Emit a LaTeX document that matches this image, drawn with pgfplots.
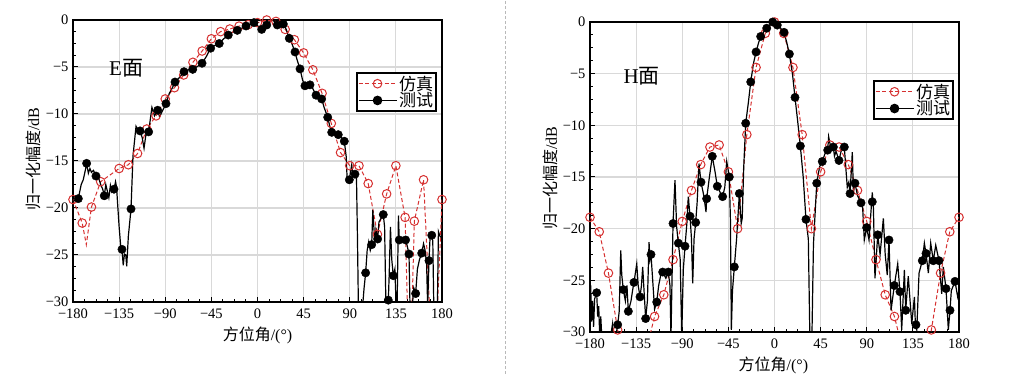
\documentclass[border=0pt]{standalone}
\usepackage{fontspec}
\setmainfont{Liberation Serif}
\newfontfamily\cjk{Noto Sans CJK SC}
\usepackage{pgfplots}
\pgfplotsset{compat=1.18}
\definecolor{simred}{RGB}{214,48,48}
\pgfplotsset{
 myax/.style={
  scale only axis, width=369pt, xmin=-180, xmax=180, ymin=-30, ymax=0,
  xtick={-180,-135,...,180}, xticklabels={−180,−135,−90,−45,0,45,90,135,180},
  ytick={-30,-25,...,0}, yticklabels={−30,−25,−20,−15,−10,−5,0},
  minor x tick num=3, minor y tick num=3,
  tick pos=left, tick align=inside,
  major tick length=5pt, minor tick length=3pt,
  every tick/.style={black, line width=1pt},
  grid=major, major grid style={gray!30, line width=1.2pt},
  axis line style={line width=1.6pt},
  tick label style={font=\fontsize{14.5}{17}\selectfont},
  xticklabel style={yshift=-3pt},
  yticklabel style={xshift=-1pt},
  label style={font=\fontsize{16}{18}\selectfont},
  legend cell align=left,
  legend style={draw=black, line width=1.8pt, font=\fontsize{17}{17}\selectfont, inner sep=1pt, row sep=-3pt, anchor=north west},
  legend image code/.code={\draw[mark repeat=2,mark phase=2] plot coordinates {(0pt,0pt)(19pt,0pt)(38pt,0pt)};},
 },
 simline/.style={simred, line width=1pt, dash pattern=on 4pt off 2.5pt},
 simmark/.style={simred, only marks, mark=o, mark size=4.3pt, mark options={solid, line width=1pt}},
 mealine/.style={black, line width=1.2pt},
 meamark/.style={black, only marks, mark=*, mark size=4.2pt},
}
\begin{document}
\begin{tikzpicture}
\path[use as bounding box] (0pt,0pt) rectangle (1011pt,374pt);
\draw[gray!55, line width=1pt, dash pattern=on 3pt off 2pt] (505pt,0pt) -- (505pt,374pt);
% ---------------- E plane ----------------
\begin{axis}[myax, at={(73pt,72pt)}, anchor=south west, height=282pt,
  xlabel={{\cjk 方位角}/(°)}, ylabel={{\cjk 归一化幅度}/dB},
  xlabel style={at={(axis description cs:0.5,-0.118)}, anchor=center},
  ylabel style={at={(axis description cs:-0.108,0.507)}, anchor=center, rotate=0},
  legend style={at={(axis description cs:0.767,0.816)}}]
\addplot[simline, forget plot] coordinates {(-180,-19.1)(-171,-21.6)(-167,-23.9)(-162,-19.9)(-153,-17.2)(-144,-16.5)(-135,-15.8)(-126,-15.4)(-117,-14.2)(-108,-11.6)(-99,-10.2)(-90,-8.4)(-81,-7.2)(-72,-5.85)(-63,-4.5)(-54,-3.3)(-45,-2.0)(-36,-1.24)(-27,-0.96)(-18,-0.65)(-9,-0.5)(0,-0.28)(9,0)(18,-0.15)(27,-1.0)(36,-2.1)(45,-3.5)(54,-5.3)(63,-7.8)(72,-11.0)(81,-14.1)(90,-15.5)(99,-15.5)(108,-17.4)(117,-22.8)(126,-18.5)(135,-15.5)(144,-21.0)(148.5,-40)(153,-21.4)(162,-17.0)(172,-40)(180,-19.1)};
\addplot[simmark, forget plot] coordinates {(-180,-19.1)(-171,-21.6)(-162,-19.9)(-153,-17.2)(-135,-15.8)(-126,-15.4)(-117,-14.2)(-108,-11.6)(-99,-10.2)(-90,-8.4)(-81,-7.2)(-72,-5.85)(-63,-4.5)(-54,-3.3)(-45,-2.0)(-36,-1.24)(-27,-0.96)(-18,-0.65)(-9,-0.5)(0,-0.28)(9,0)(18,-0.15)(27,-1.0)(36,-2.1)(45,-3.5)(54,-5.3)(63,-7.8)(72,-11.0)(81,-14.1)(90,-15.5)(99,-15.5)(108,-17.4)(117,-22.8)(126,-18.5)(135,-15.5)(144,-21.0)(153,-21.4)(162,-17.0)(180,-19.1)};
\addplot[mealine, forget plot] coordinates {(-180,-19.3)(-177,-19.1)(-174.8,-19.0)(-172,-17.5)(-170,-17.0)(-168,-16.0)(-166.7,-15.25)(-165,-16.3)(-163.5,-15.8)(-162,-16.2)(-160,-16.0)(-157.6,-16.6)(-155,-16.8)(-153,-17.5)(-151,-18.0)(-149.5,-18.7)(-148,-17.5)(-146.5,-18.2)(-145,-18.9)(-143.5,-17.6)(-142,-18.3)(-140,-18.0)(-138.5,-17.2)(-137.5,-17.8)(-136.5,-19.5)(-135,-22.0)(-133.5,-24.0)(-132.2,-24.4)(-131,-26.1)(-129.8,-24.9)(-128.5,-25.0)(-127.6,-26.2)(-126,-23)(-123.4,-20.1)(-121.5,-14.5)(-118.5,-11.3)(-116,-11.8)(-114.6,-11.8)(-112.5,-12.5)(-110.7,-13.65)(-109,-12.3)(-106.2,-11.9)(-104.5,-10.5)(-103,-9.3)(-100.5,-10.2)(-97.4,-9.6)(-95.5,-10.3)(-92,-9.5)(-89.3,-8.9)(-86,-7.8)(-83,-7.2)(-80.5,-6.6)(-76,-6.1)(-71.7,-5.5)(-67,-5.3)(-63.2,-5.25)(-58,-4.9)(-54.1,-4.6)(-50,-3.9)(-45.7,-3.0)(-41.5,-2.7)(-37.3,-2.5)(-33,-2.0)(-28.5,-1.6)(-24,-1.3)(-19.7,-1.1)(-15,-0.85)(-11.2,-0.64)(-7,-0.45)(-3.4,-0.28)(0,-0.6)(4.1,-1.0)(6.5,-0.7)(9,-0.53)(12,-0.2)(15,0)(19.3,-0.53)(22,-0.1)(25.2,-0.43)(28,-1.0)(31.0,-1.95)(33.5,-2.5)(36.6,-3.4)(38.5,-4.2)(41.5,-5.2)(44,-6.4)(46.3,-7.0)(48.7,-6.95)(51.2,-6.9)(54,-7.3)(57.1,-8.0)(60,-8.2)(62.6,-8.4)(65,-9.3)(68.5,-10.35)(70.5,-11.3)(72.4,-11.95)(75,-12.1)(78.8,-12.2)(81,-12.3)(82.5,-12.6)(84.7,-12.9)(86.5,-14.5)(87.5,-17.0)(89.6,-17.0)(91.9,-15.4)(93,-16.5)(95.1,-16.4)(96.5,-16.3)(97.5,-23)(98.5,-31)(101,-31)(102.5,-30.5)(104,-28.5)(105.5,-26.9)(107,-24.5)(108.5,-23.6)(110,-24.5)(111.4,-23.9)(112.5,-20.2)(113.5,-22)(114.5,-23.5)(115.5,-22.3)(117.2,-23.3)(118.5,-21.5)(120,-21.2)(122.7,-20.7)(124,-22)(125.3,-30.5)(126.5,-30.5)(127.6,-30)(128.5,-27)(129.7,-22.0)(131,-25.5)(132.5,-27.2)(134,-26.5)(135.3,-30.5)(136.2,-30.5)(137.5,-20.8)(138.3,-23.4)(141,-23.4)(144.5,-23.4)(146,-24)(147.8,-24.9)(148.8,-30.5)(151,-30.5)(152.5,-28.5)(154.3,-29.1)(156,-26.5)(158,-25.5)(160.2,-24.8)(162,-23.8)(163.5,-24.5)(165,-26)(166,-30.5)(167.3,-25.6)(168.5,-22.8)(170,-22.9)(171,-23.5)(172,-30.5)(175.5,-30.5)(176.5,-22.5)(178,-23.0)(180,-23.2)};
\addplot[meamark, forget plot] coordinates {(-174.8,-19.0)(-166.7,-15.25)(-157.6,-16.6)(-149.5,-18.7)(-140,-18.0)(-132.2,-24.4)(-123.4,-20.1)(-114.6,-11.8)(-106.2,-11.9)(-97.4,-9.6)(-89.3,-8.9)(-80.5,-6.6)(-71.7,-5.5)(-63.2,-5.25)(-54.1,-4.6)(-45.7,-3.0)(-37.3,-2.5)(-28.5,-1.6)(-19.7,-1.1)(-11.2,-0.64)(-3.4,-0.28)(4.1,-1.0)(9,-0.53)(19.3,-0.53)(25.2,-0.43)(31.0,-1.95)(36.6,-3.4)(41.5,-5.2)(46.3,-7.0)(51.2,-6.9)(57.1,-8.0)(62.6,-8.4)(68.5,-10.35)(72.4,-11.95)(78.8,-12.2)(84.7,-12.9)(89.6,-17.0)(95.1,-16.4)(105.5,-26.9)(111.4,-23.9)(117.2,-23.3)(122.7,-20.7)(127.6,-29.8)(132.5,-27.2)(138.3,-23.4)(144.5,-23.4)(147.8,-24.9)(154.3,-29.1)(160.2,-24.8)(167.3,-25.6)(170.0,-22.9)};
\addlegendimage{simred, line width=1pt, dash pattern=on 4pt off 2.5pt, mark=o, mark size=4.3pt, mark options={solid}}
\addlegendentry{\cjk 仿真}
\addlegendimage{black, line width=1.2pt, mark=*, mark size=4.2pt}
\addlegendentry{\cjk 测试}
\node[font=\fontsize{21}{22}\selectfont] at (axis description cs:0.144,0.83) {E{\cjk 面}};
\end{axis}
% ---------------- H plane ----------------
\begin{axis}[myax, at={(590pt,42pt)}, anchor=south west, height=310pt,
  xlabel={{\cjk 方位角}/(°)}, ylabel={{\cjk 归一化幅度}/dB},
  xlabel style={at={(axis description cs:0.497,-0.108)}, anchor=center},
  ylabel style={at={(axis description cs:-0.106,0.497)}, anchor=center, rotate=0},
  legend style={at={(axis description cs:0.767,0.813)}}]
\addplot[simline, forget plot] coordinates {(-180,-18.9)(-171,-20.3)(-162,-24.3)(-153,-29.8)(-151,-31.5)(-140,-45)(-124,-33)(-121,-30.1)(-117,-28.5)(-108,-26.4)(-99,-23.0)(-90,-19.3)(-81,-16.3)(-72,-13.8)(-63,-12.1)(-54,-11.9)(-45,-14.5)(-36,-20.0)(-27,-10.9)(-18,-4.4)(-9,-1.1)(0,0)(9,-1.1)(18,-4.4)(27,-10.9)(36,-20.0)(45,-14.5)(54,-11.9)(63,-12.1)(72,-13.8)(81,-16.3)(90,-19.3)(99,-23.0)(108,-26.4)(117,-28.5)(121,-30.1)(124,-33)(140,-45)(151,-31.5)(153,-29.8)(162,-24.3)(171,-20.3)(180,-18.9)};
\addplot[simmark, forget plot] coordinates {(-180,-18.9)(-171,-20.3)(-162,-24.3)(-153,-29.8)(-117,-28.5)(-108,-26.4)(-99,-23.0)(-90,-19.3)(-81,-16.3)(-72,-13.8)(-63,-12.1)(-54,-11.9)(-45,-14.5)(-36,-20.0)(-27,-10.9)(-18,-4.4)(-9,-1.1)(0,0)(9,-1.1)(18,-4.4)(27,-10.9)(36,-20.0)(45,-14.5)(54,-11.9)(63,-12.1)(72,-13.8)(81,-16.3)(90,-19.3)(99,-23.0)(108,-26.4)(117,-28.5)(153,-29.8)(162,-24.3)(171,-20.3)(180,-18.9)};
\addplot[mealine, forget plot] coordinates {(-180,-28)(-179.3,-25.5)(-178.5,-29)(-177.5,-27)(-176.5,-29.5)(-175.5,-26.8)(-173.5,-26.2)(-172.5,-28.5)(-171.5,-27.5)(-170.5,-30.5)(-169.5,-28.5)(-168.5,-30.5)(-160,-30.5)(-158,-29.2)(-157,-30.5)(-155,-30.5)(-153,-29.3)(-151.5,-28)(-150,-22.1)(-149,-24.5)(-147.5,-25.9)(-145.5,-27)(-144,-25.5)(-142.6,-28.0)(-140,-27)(-138.5,-26)(-137.1,-25.2)(-134.4,-23.4)(-133,-25.5)(-131.2,-26.6)(-129.8,-25.5)(-128.6,-23.7)(-127,-26.5)(-125.7,-28.7)(-124,-27)(-122.4,-21.3)(-121.5,-23)(-120.5,-22.5)(-118.5,-25.5)(-117,-27.8)(-114.9,-27.1)(-113,-25.5)(-111,-24.5)(-109.1,-24.2)(-106,-24.8)(-103.6,-24.2)(-102,-25.5)(-101,-30.5)(-100,-25)(-99,-19.5)(-97.1,-15.3)(-95.5,-19.8)(-93.8,-21.4)(-92,-23)(-90.5,-30.5)(-89,-24)(-87.3,-21.7)(-85.5,-19.5)(-84.1,-16.9)(-82.4,-18.8)(-81,-21)(-79.8,-25.3)(-78.5,-21)(-76.9,-19.4)(-75.5,-17.5)(-73.7,-13.7)(-71.7,-15.5)(-69,-16.8)(-66.8,-18.4)(-66.2,-17.1)(-63.5,-15)(-60.7,-13.0)(-58,-14.5)(-55.8,-15.9)(-53,-16.5)(-50.6,-16.9)(-48.5,-16)(-46.6,-13.5)(-44.1,-15.0)(-43,-19.2)(-42.1,-29.8)(-41,-26)(-39.2,-23.7)(-37,-21)(-34.3,-16.6)(-32.5,-19.5)(-31.5,-19)(-30,-14)(-28.1,-9.8)(-25.5,-7.8)(-23.2,-5.8)(-20.5,-4.0)(-18,-2.9)(-15.5,-2.0)(-13.5,-1.4)(-10.5,-0.95)(-7.6,-0.6)(-3.5,-0.2)(-1.8,0)(0,-0.1)(2.7,-0.3)(6,-0.6)(9.3,-1.0)(12,-2.0)(14.5,-3.1)(17.5,-5)(20,-7.3)(22.5,-9.5)(25.2,-12.0)(28,-15)(30.7,-19.1)(33,-21)(34.5,-30.5)(36.5,-30.5)(38,-21.5)(41.2,-15.6)(44,-14)(46.6,-13.5)(49,-12.8)(51.9,-12.4)(52.8,-11.1)(55,-12.2)(57.4,-12.1)(58.5,-13.0)(60,-12.5)(62.9,-13.4)(65,-12.5)(68.1,-12.1)(69.5,-14)(71,-16)(72.5,-15.5)(73.7,-16.6)(75.9,-12.6)(77,-16.5)(78.5,-15.6)(81,-16.8)(84.4,-17.5)(86,-18)(87.6,-21.1)(89.9,-19.9)(92.2,-21.1)(95.4,-16.5)(96.5,-18)(98,-24.8)(100.7,-20.6)(103,-22.5)(106.2,-19.0)(108,-22.5)(110,-24.5)(111.7,-21.1)(113.7,-27.9)(116.9,-25.5)(120.2,-23.4)(122.4,-26.1)(124.1,-29.8)(126.7,-24.0)(128,-27.9)(130.5,-24.6)(133.9,-29.2)(136.5,-26.6)(137.5,-29.5)(138.8,-29.8)(141,-24.3)(144.2,-23.1)(146.2,-21.4)(147.8,-22.4)(150.1,-24.3)(152.4,-21.4)(154.9,-23.1)(157.3,-21.6)(160.5,-23.1)(163.1,-26.3)(164.7,-23.7)(167.3,-25.8)(169.6,-29.8)(171.2,-27.9)(172.5,-26)(176.1,-25.1)(178.7,-26.6)(180,-26)};
\addplot[meamark, forget plot] coordinates {(-173.5,-26.2)(-153,-29.3)(-147.5,-25.9)(-142.6,-28.0)(-137.1,-25.2)(-131.2,-26.6)(-125.7,-28.7)(-120.5,-22.5)(-114.9,-27.1)(-109.1,-24.2)(-103.6,-24.2)(-99.0,-19.5)(-93.8,-21.4)(-87.3,-21.7)(-82.4,-18.8)(-76.9,-19.4)(-71.7,-15.5)(-66.2,-17.1)(-60.7,-13.0)(-55.8,-15.9)(-50.6,-16.9)(-44.1,-15.0)(-39.2,-23.7)(-34.3,-16.6)(-28.1,-9.8)(-23.2,-5.8)(-18,-2.9)(-13.5,-1.4)(-7.6,-0.6)(-1.8,0)(2.7,-0.3)(9.3,-1.0)(14.5,-3.1)(20.0,-7.3)(25.2,-12.0)(30.7,-19.1)(41.2,-15.6)(46.6,-13.5)(51.9,-12.4)(57.4,-12.1)(62.9,-13.4)(68.1,-12.1)(73.7,-16.6)(78.5,-15.6)(84.4,-17.5)(89.9,-19.9)(95.4,-17.4)(100.7,-20.6)(111.7,-21.1)(116.9,-25.5)(122.4,-26.1)(128.0,-27.9)(138,-29.3)(144.2,-23.1)(147.8,-22.4)(154.9,-23.1)(160.5,-23.1)(167.3,-25.8)(171.2,-27.9)(176.1,-25.1)};
\addlegendimage{simred, line width=1pt, dash pattern=on 4pt off 2.5pt, mark=o, mark size=4.3pt, mark options={solid}}
\addlegendentry{\cjk 仿真}
\addlegendimage{black, line width=1.2pt, mark=*, mark size=4.2pt}
\addlegendentry{\cjk 测试}
\node[font=\fontsize{21}{22}\selectfont] at (axis description cs:0.14,0.824) {H{\cjk 面}};
\end{axis}
\end{tikzpicture}
\end{document}
